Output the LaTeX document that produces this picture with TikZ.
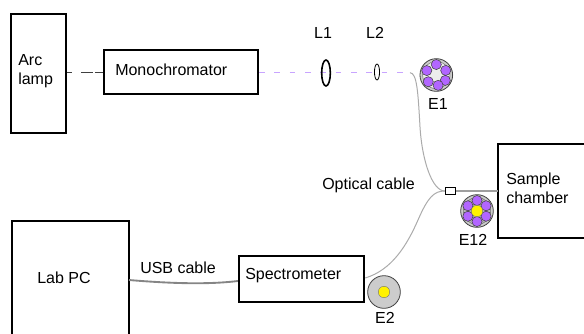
\documentclass[tikz,border=0pt]{standalone}
\usepackage{fontspec}
\setmainfont{Liberation Sans}
\usetikzlibrary{shapes.geometric,calc}
\definecolor{violet2}{HTML}{B266FF}
\definecolor{beamc}{HTML}{C8A4FF}
\tikzset{
  px/.style={x=0.75pt,y=-0.75pt},
  boxs/.style={draw=black,line width=1.5pt,fill=white,inner sep=0pt},
  lbl/.style={font=\fontsize{12}{14.5}\selectfont,inner sep=0pt,align=left,text=black},
  fibre/.style={draw=black!33,line width=0.75pt},
  bundle/.style={draw=black!38,line width=1.7pt},
  core/.style={circle,draw=black!75,line width=0.4pt,fill=violet2,minimum size=7.6pt,inner sep=0pt},
  ycore/.style={circle,draw=black!55,line width=0.3pt,fill=yellow,minimum size=8.6pt,inner sep=0pt},
  ferrule/.style={circle,draw=black!75,line width=0.6pt,fill=black!20,minimum size=24.5pt,inner sep=0pt},
  fcore/.style={circle,draw=black!55,line width=0.4pt,minimum size=20.5pt,inner sep=0pt},
  lens/.style={ellipse,draw=black,inner sep=0pt},
}
\begin{document}
\begin{tikzpicture}[px]
\useasboundingbox (0,0) rectangle (584,333);
% boxes
\node[boxs,minimum width=41pt,minimum height=89pt] (arc) at (38.5,73.5) {};
\node[boxs,minimum width=115.5pt,minimum height=33pt] (mono) at (181,72) {};
\path[boxs] (12,221) rectangle (129,345);
\coordinate (pcE) at (129,280);
\node[boxs,minimum width=94pt,minimum height=34.5pt] (spec) at (301.5,279) {};
\path[boxs] (498,144) rectangle (600,238);
\coordinate (chW) at (498,191);
% beam
\coordinate (beamend) at (410,72.7);
\draw[black!75,line width=0.75pt,dash pattern=on 3.75pt off 6.75pt on 9pt off 1.5pt on 7pt off 2pt] (arc.east |- 0,72.5) -- (mono.west |- 0,72.5);
\draw[beamc,line width=0.8pt,dash pattern=on 4.2pt off 7.3pt] (mono.east |- 0,72.7) -- (beamend);
% lenses
\node[lens,line width=1.2pt,minimum width=6.5pt,minimum height=19.5pt] (L1) at (326,73) {};
\node[lens,line width=0.6pt,minimum width=3.8pt,minimum height=12pt] (L2) at (377,72) {};
% fibres
\node[boxs,line width=0.9pt,minimum width=7.6pt,minimum height=5.8pt] (sma) at (450.5,191) {};
\draw[fibre] (beamend) .. controls (417,73) and (418,92) .. (420,127) .. controls (422,160) and (432,191) .. (sma.west);
\draw[fibre] (spec.east |- 0,278) .. controls (392,270) and (407,245) .. (418,220) .. controls (428,197) and (434,191) .. (sma.west);
\draw[bundle] (sma.east) -- (chW);
\draw[black!48,line width=1.4pt] (pcE) .. controls (165,283) and (205,285) .. (spec.west |- 0,281);
% E1
\node[ferrule] (e1) at (436.3,75) {};
\node[fcore,fill=black!7] at (e1) {};
\foreach \a in {-90,-26,31,80,140,205}{\node[core] at ($(e1)+(\a:10.5)$) {};}
% E12
\node[ferrule] (e12) at (477,211) {};
\node[fcore,fill=black!28] at (e12) {};
\foreach \a in {-90,-30,30,90,150,210}{\node[core] at ($(e12)+(\a:10.5)$) {};}
\node[ycore] at (e12) {};
% E2
\node[ferrule] (e2) at (384,292) {};
\node[ycore] (e2c) at (e2) {};
% labels
\node[lbl,anchor=west] (t1) at (18,71) {Arc\\lamp};
\node[lbl,anchor=west] (t2) at (115,70) {Monochromator};
\node[lbl] (t3) at (323,33) {L1};
\node[lbl] (t4) at (375,33) {L2};
\node[lbl] (t5) at (438,104) {E1};
\node[lbl] (t6) at (473,240) {E12};
\node[lbl] (t7) at (385,318) {E2};
\node[lbl,anchor=west] (t8) at (506,188) {Sample\\chamber};
\node[lbl,anchor=west] (t9) at (322,185) {Optical cable};
\node[lbl,anchor=west] (t10) at (37,278) {Lab PC};
\node[lbl,anchor=west] (t11) at (140,268) {USB cable};
\node[lbl,anchor=west] (t12) at (245,276) {Spectrometer};
\end{tikzpicture}
\end{document}
